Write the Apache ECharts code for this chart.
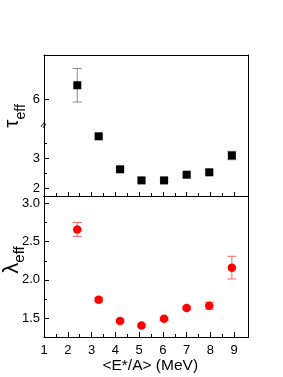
<!DOCTYPE html>
<html><head><meta charset="utf-8">
<script src="https://cdn.jsdelivr.net/npm/echarts@6/dist/echarts.min.js"></script>
<style>html,body{margin:0;padding:0;background:#fff}#c{width:283px;height:377px}</style>
</head><body><div id="c"></div>
<script>
// ---- data ----
const energy = [2.4, 3.3, 4.2, 5.1, 6.05, 7.0, 7.95, 8.9];
const tauValues = [6.47, 3.74, 2.64, 2.27, 2.27, 2.46, 2.54, 3.10];
const tauErrors = [0.57, 0.06, 0.05, 0.05, 0.05, 0.05, 0.06, 0.14];
const lambdaValues = [2.66, 1.74, 1.46, 1.40, 1.49, 1.63, 1.66, 2.16];
const lambdaErrors = [0.092, 0.03, 0.02, 0.02, 0.02, 0.02, 0.046, 0.149];
// ---- ticks ----
const xTicks = [1, 2, 3, 4, 5, 6, 7, 8, 9];
const xMinorTicks = [1.5, 2.5, 3.5, 4.5, 5.5, 6.5, 7.5, 8.5];
const tauUpperTicks = [6];
const tauLowerTicks = [2, 3];
const tauLowerMinorTicks = [2.5, 3.5];
const lambdaTicks = [1.5, 2.0, 2.5, 3.0];
const lambdaMinorTicks = [1.75, 2.25, 2.75];
// ---- ranges ----
const xRange = [1, 9.6];
const tauUpperRange = [5.1, 7.5];
const tauLowerRange = [1.75, 4.1];
const lambdaRange = [1.25, 3.1];

const FONT = 'Liberation Sans, Arial, Helvetica, sans-serif';
const L = 44, W = 204.5;
const G0 = {top: 55, h: 70.5}, G1 = {top: 125.5, h: 70.5}, G2 = {top: 196, h: 141};

const chart = echarts.init(document.getElementById('c'), null, {renderer: 'canvas'});

const line = {show: true, onZero: false, lineStyle: {color: '#000', width: 1}};
const noLine = {show: false};
function xAx(grid, o) {
  return Object.assign({type: 'value', gridIndex: grid, min: xRange[0], max: xRange[1],
    axisLine: noLine, axisTick: {show: false}, axisLabel: {show: false}, splitLine: {show: false}}, o);
}
function yAx(grid, range, o) {
  return Object.assign({type: 'value', gridIndex: grid, min: range[0], max: range[1],
    axisLine: noLine, axisTick: {show: false}, axisLabel: {show: false}, splitLine: {show: false}}, o);
}
const tickStyle = {color: '#000', width: 1};
const lblStyle = {color: '#000', fontFamily: FONT, fontSize: 13};

const xAxis = [
  xAx(0, {position: 'top', axisLine: line}),
  xAx(1, {position: 'bottom', axisLine: line,
          axisTick: {show: true, inside: true, length: 4, customValues: xTicks, lineStyle: tickStyle}}),
  xAx(1, {position: 'bottom',
          axisTick: {show: true, inside: true, length: 3, customValues: xMinorTicks, lineStyle: tickStyle}}),
  xAx(2, {position: 'bottom', axisLine: line,
          axisTick: {show: true, inside: true, length: 5, customValues: xTicks, lineStyle: tickStyle},
          axisLabel: Object.assign({show: true, margin: 7, customValues: xTicks, formatter: v => String(v)}, lblStyle),
          name: '<E*/A> (MeV)', nameLocation: 'middle', nameGap: 18,
          nameTextStyle: {color: '#000', fontFamily: FONT, fontSize: 15.5, padding: [0, 0, 0, 8]}}),
  xAx(2, {position: 'bottom',
          axisTick: {show: true, inside: true, length: 3, customValues: xMinorTicks, lineStyle: tickStyle}}),
  xAx(2, {position: 'top', axisLine: line})
];

const yAxis = [
  yAx(0, tauUpperRange, {position: 'left', axisLine: line,
      axisTick: {show: true, inside: true, length: 5, customValues: tauUpperTicks, lineStyle: tickStyle},
      axisLabel: Object.assign({show: true, margin: 4, customValues: tauUpperTicks, formatter: v => String(v)}, lblStyle)}),
  yAx(0, tauUpperRange, {position: 'right', axisLine: line}),
  yAx(1, tauLowerRange, {position: 'left', axisLine: line,
      axisTick: {show: true, inside: true, length: 5, customValues: tauLowerTicks, lineStyle: tickStyle},
      axisLabel: Object.assign({show: true, margin: 4, customValues: tauLowerTicks, formatter: v => String(v)}, lblStyle)}),
  yAx(1, tauLowerRange, {position: 'left',
      axisTick: {show: true, inside: true, length: 3, customValues: tauLowerMinorTicks, lineStyle: tickStyle}}),
  yAx(1, tauLowerRange, {position: 'right', axisLine: line}),
  yAx(2, lambdaRange, {position: 'left', axisLine: line,
      axisTick: {show: true, inside: true, length: 5, customValues: lambdaTicks, lineStyle: tickStyle},
      axisLabel: Object.assign({show: true, margin: 4, customValues: lambdaTicks, formatter: v => v.toFixed(1)}, lblStyle)}),
  yAx(2, lambdaRange, {position: 'left',
      axisTick: {show: true, inside: true, length: 3, customValues: lambdaMinorTicks, lineStyle: tickStyle}}),
  yAx(2, lambdaRange, {position: 'right', axisLine: line})
];

function pts(vals, keep) {
  return energy.map((x, i) => keep(vals[i]) ? [x, vals[i]] : null).filter(Boolean);
}
function errs(vals, es, keep) {
  return energy.map((x, i) => keep(vals[i]) ? [x, vals[i] - es[i], vals[i] + es[i]] : null).filter(Boolean);
}
function errSeries(data, xi, yi, color) {
  return {
    type: 'custom', xAxisIndex: xi, yAxisIndex: yi, data: data, z: 2, silent: true,
    encode: {x: 0, y: [1, 2]},
    renderItem: function (params, api) {
      const x = api.value(0);
      const p1 = api.coord([x, api.value(2)]);
      const p2 = api.coord([x, api.value(1)]);
      const w = 4.5;
      const st = {stroke: color, lineWidth: 1};
      return {type: 'group', children: [
        {type: 'line', shape: {x1: p1[0], y1: p1[1], x2: p2[0], y2: p2[1]}, style: st},
        {type: 'line', shape: {x1: p1[0] - w, y1: p1[1], x2: p1[0] + w, y2: p1[1]}, style: st},
        {type: 'line', shape: {x1: p2[0] - w, y1: p2[1], x2: p2[0] + w, y2: p2[1]}, style: st}
      ]};
    }
  };
}
const isUpper = v => v > tauLowerRange[1];
const isLower = v => v <= tauLowerRange[1];
const all = v => true;

const series = [
  errSeries(errs(tauValues, tauErrors, isUpper), 0, 0, '#8c8c8c'),
  errSeries(errs(tauValues, tauErrors, isLower), 1, 2, '#8c8c8c'),
  {type: 'scatter', xAxisIndex: 0, yAxisIndex: 0, data: pts(tauValues, isUpper), symbol: 'rect', symbolSize: 8,
   itemStyle: {color: '#000', opacity: 1}, z: 3},
  {type: 'scatter', xAxisIndex: 1, yAxisIndex: 2, data: pts(tauValues, isLower), symbol: 'rect', symbolSize: 8,
   itemStyle: {color: '#000', opacity: 1}, z: 3},
  errSeries(errs(lambdaValues, lambdaErrors, all), 3, 5, '#f46a6a'),
  {type: 'scatter', xAxisIndex: 3, yAxisIndex: 5, data: pts(lambdaValues, all), symbol: 'circle', symbolSize: 8.5,
   itemStyle: {color: '#ff0000', opacity: 1}, z: 3}
];

const option = {
  animation: false,
  backgroundColor: '#fff',
  grid: [
    {left: L, width: W, top: G0.top, height: G0.h, outerBoundsMode: 'none'},
    {left: L, width: W, top: G1.top, height: G1.h, outerBoundsMode: 'none'},
    {left: L, width: W, top: G2.top, height: G2.h, outerBoundsMode: 'none'}
  ],
  xAxis: xAxis,
  yAxis: yAxis,
  series: series,
  graphic: [
    {type: 'text', x: L, y: G1.top, rotation: 1.0, z: 100,
     style: {text: '≈', fontSize: 11, fontFamily: FONT, fill: '#000', align: 'center', verticalAlign: 'middle'}},
    {type: 'text', x: 15, y: 116, rotation: Math.PI / 2, z: 100,
     style: {text: '{a|τ}{b|eff}', align: 'center', verticalAlign: 'middle',
       rich: {a: {fontSize: 21, fontFamily: FONT, fill: '#000', verticalAlign: 'bottom', padding: [0, 0, 5, 0]},
              b: {fontSize: 14, fontFamily: FONT, fill: '#000', verticalAlign: 'bottom'}}}},
    {type: 'text', x: 14, y: 260, rotation: Math.PI / 2, z: 100,
     style: {text: '{a|λ}{b|eff}', align: 'center', verticalAlign: 'middle',
       rich: {a: {fontSize: 22, fontFamily: FONT, fill: '#000', verticalAlign: 'bottom', padding: [0, 0, 5, 0]},
              b: {fontSize: 15, fontFamily: FONT, fill: '#000', verticalAlign: 'bottom'}}}}
  ]
};
chart.setOption(option);
</script>
</body></html>
